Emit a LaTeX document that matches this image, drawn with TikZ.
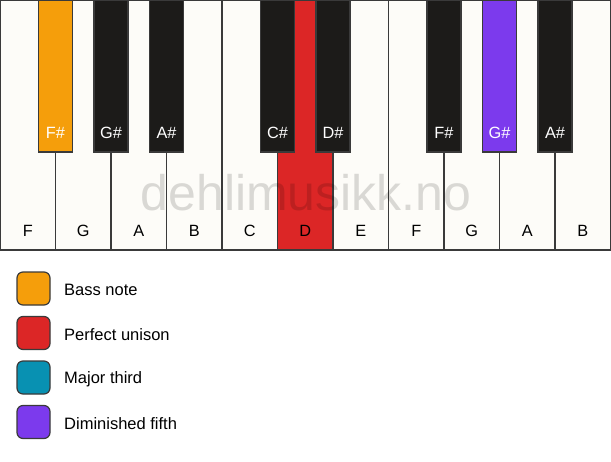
\documentclass[tikz,border=0pt]{standalone}
\usepackage{fontspec}
\setmainfont{Liberation Sans}
\usetikzlibrary{calc}
\definecolor{keywhite}{HTML}{FDFCF8}
\definecolor{keyblack}{HTML}{1C1B19}
\definecolor{keyline}{HTML}{3A3A3A}
\definecolor{cbass}{HTML}{F59E0B}
\definecolor{cunison}{HTML}{DC2626}
\definecolor{cthird}{HTML}{0891B2}
\definecolor{cfifth}{HTML}{7C3AED}
\begin{document}
\begin{tikzpicture}[x=1pt,y=-1pt,
  wkey/.style={draw=keyline,line width=1.3pt,fill=keywhite,anchor=north west,minimum width=55.5pt,minimum height=250pt,inner sep=0pt,outer sep=0pt},
  bkey/.style={draw=keyline,line width=1.3pt,fill=keyblack,anchor=north west,minimum width=34pt,minimum height=152pt,inner sep=0pt,outer sep=0pt},
  wlab/.style={font=\fontsize{16.3}{19}\selectfont,text=black,inner sep=0pt},
  blab/.style={font=\fontsize{16.3}{19}\selectfont,text=white,inner sep=0pt},
  legbox/.style={draw=keyline,line width=1.2pt,rounded corners=6pt,minimum width=33pt,minimum height=33pt,inner sep=0pt},
  legtext/.style={font=\fontsize{16.5}{19}\selectfont,anchor=west,inner sep=0pt},
  mark label/.style={font=\fontsize{50}{58}\selectfont,text=black,text opacity=0.14,inner sep=0pt}
]
\fill[white] (0,0) rectangle (611,461);
\useasboundingbox (0,0) rectangle (611,461);
% white keys
\foreach \i/\n/\c in {0/F/keywhite,1/G/keywhite,2/A/keywhite,3/B/keywhite,4/C/keywhite,5/D/cunison,6/E/keywhite,7/F/keywhite,8/G/keywhite,9/A/keywhite,10/B/keywhite}{
  \node[wkey,fill=\c] (w\i) at (\i*55.5,0) {};
  \node[wlab] (wl\i) at ($(w\i.south)+(0,-19.5)$) {\n};
}
% watermark
\node[mark label] (mark) at (306,193) {dehlimusikk.no};
% black keys
\foreach \i/\n/\c in {1/F\#/cbass,2/G\#/keyblack,3/A\#/keyblack,5/C\#/keyblack,6/D\#/keyblack,8/F\#/keyblack,9/G\#/cfifth,10/A\#/keyblack}{
  \node[bkey,fill=\c] (b\i) at (\i*55.5-17,0) {};
  \node[blab] (bl\i) at ($(b\i.south)+(0,-19)$) {\n};
}
% legend
\node[legbox,fill=cbass] (l1) at (33.5,288.5) {};
\node[legtext] (t1) at (64,290) {Bass note};
\node[legbox,fill=cunison] (l2) at (33.5,333) {};
\node[legtext] (t2) at (64,334.5) {Perfect unison};
\node[legbox,fill=cthird] (l3) at (33.5,377.5) {};
\node[legtext] (t3) at (64,379) {Major third};
\node[legbox,fill=cfifth] (l4) at (33.5,422) {};
\node[legtext] (t4) at (64,423.5) {Diminished fifth};
\end{tikzpicture}
\end{document}
